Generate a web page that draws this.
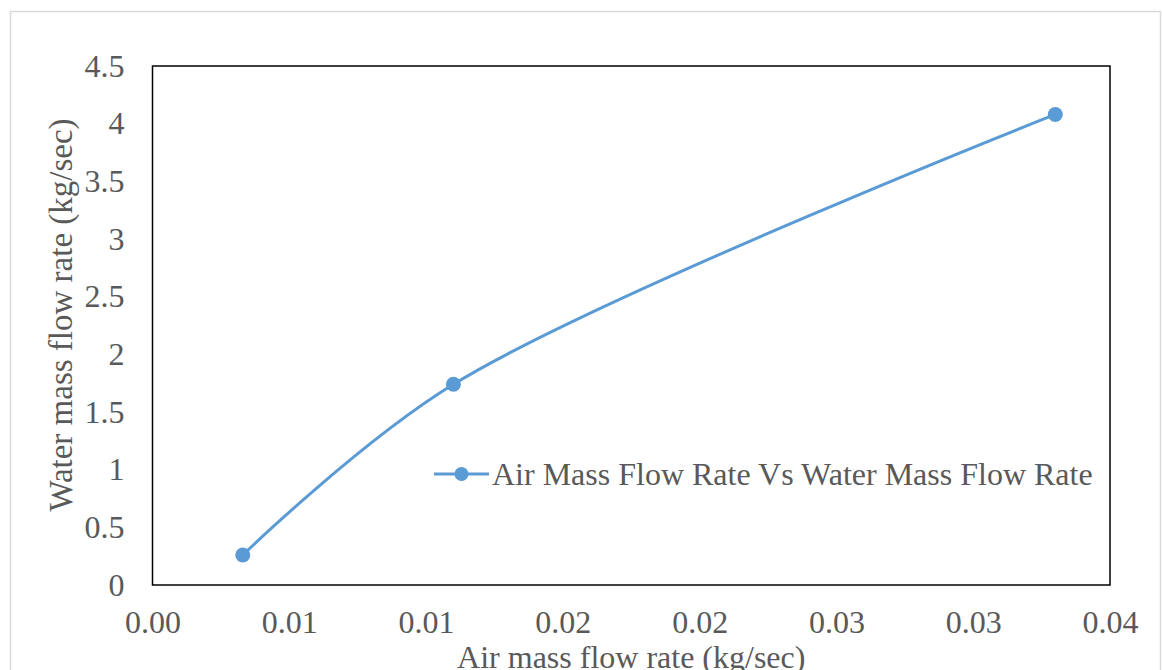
<!DOCTYPE html>
<html>
<head>
<meta charset="utf-8">
<script src="https://cdn.jsdelivr.net/npm/d3@7"></script>
<style>
  body { margin: 0; background: #fff; }
  svg text { font-family: "Liberation Serif", "Times New Roman", serif; fill: #595959; }
</style>
</head>
<body>
<div id="grafico"></div>
<script>
// datos
const airFlow = [0.0033, 0.0110, 0.0330];
const waterFlow = [0.26, 1.74, 4.08];
const xTickValues = [0, 0.005, 0.01, 0.015, 0.02, 0.025, 0.03, 0.035];
const xTickLabels = ["0.00", "0.01", "0.01", "0.02", "0.02", "0.03", "0.03", "0.04"];
const yTickValues = [0, 0.5, 1, 1.5, 2, 2.5, 3, 3.5, 4, 4.5];
const yTickLabels = ["0", "0.5", "1", "1.5", "2", "2.5", "3", "3.5", "4", "4.5"];
const seriesName = "Air Mass Flow Rate Vs Water Mass Flow Rate";

const width = 1162;
const height = 670;
const margin = { top: 66, right: 52, bottom: 85, left: 152.5 };
const color = "#5B9BD5";

const data = airFlow.map((x, i) => ({ x, y: waterFlow[i] }));

const svg = d3
  .select("#grafico")
  .append("svg")
  .attr("width", width)
  .attr("height", height);

// borde del area del grafico
svg
  .append("rect")
  .attr("x", 10.5)
  .attr("y", 11.5)
  .attr("width", 1150)
  .attr("height", 700)
  .attr("fill", "none")
  .attr("stroke", "#d9d9d9")
  .attr("stroke-width", 1.5);

const x = d3
  .scaleLinear()
  .domain([0, 0.035])
  .range([margin.left, width - margin.right]);

const y = d3
  .scaleLinear()
  .domain([0, 4.5])
  .range([height - margin.bottom, margin.top]);

// Eje X
const gx = svg
  .append("g")
  .attr("transform", `translate(0,${height - margin.bottom})`)
  .call(
    d3
      .axisBottom(x)
      .tickValues(xTickValues)
      .tickFormat((d, i) => xTickLabels[i])
      .tickSize(0)
      .tickPadding(0)
  );
gx.select(".domain").remove();
gx.selectAll("text")
  .attr("y", 48)
  .attr("dy", null)
  .style("font-size", "32px");

// Eje Y
const gy = svg
  .append("g")
  .attr("transform", `translate(${margin.left},0)`)
  .call(
    d3
      .axisLeft(y)
      .tickValues(yTickValues)
      .tickFormat((d, i) => yTickLabels[i])
      .tickSize(0)
      .tickPadding(28)
  );
gy.select(".domain").remove();
gy.selectAll("text")
  .attr("dy", "0.32em")
  .style("font-size", "32px");

// marco del area de trazado
svg
  .append("rect")
  .attr("x", x(0))
  .attr("y", y(4.5))
  .attr("width", x(0.035) - x(0))
  .attr("height", y(0) - y(4.5))
  .attr("fill", "none")
  .attr("stroke", "#000")
  .attr("stroke-width", 1.5);

// linea suavizada
const line = d3
  .line()
  .x((d) => x(d.x))
  .y((d) => y(d.y))
  .curve(d3.curveCatmullRom.alpha(0.5));

svg
  .append("path")
  .datum(data)
  .attr("d", line)
  .attr("fill", "none")
  .attr("stroke", color)
  .attr("stroke-width", 3);

svg
  .append("g")
  .selectAll("circle")
  .data(data)
  .join("circle")
  .attr("cx", (d) => x(d.x))
  .attr("cy", (d) => y(d.y))
  .attr("r", 7.5)
  .attr("fill", color);

// Titulos de ejes
svg
  .append("text")
  .attr("x", (x(0) + x(0.035)) / 2)
  .attr("y", 668)
  .attr("text-anchor", "middle")
  .style("font-size", "32px")
  .text("Air mass flow rate (kg/sec)");

svg
  .append("text")
  .attr("transform", "translate(72,315) rotate(-90)")
  .attr("text-anchor", "middle")
  .style("font-size", "33px")
  .text("Water mass flow rate (kg/sec)");

// Leyenda
const legend = svg.append("g").attr("transform", "translate(434,474)");
legend
  .append("line")
  .attr("x1", 0)
  .attr("x2", 55)
  .attr("stroke", color)
  .attr("stroke-width", 3);
legend
  .append("circle")
  .attr("cx", 27.5)
  .attr("r", 7)
  .attr("fill", color);
legend
  .append("text")
  .attr("x", 58)
  .attr("y", 11)
  .style("font-size", "32px")
  .text(seriesName);
</script>
</body>
</html>
